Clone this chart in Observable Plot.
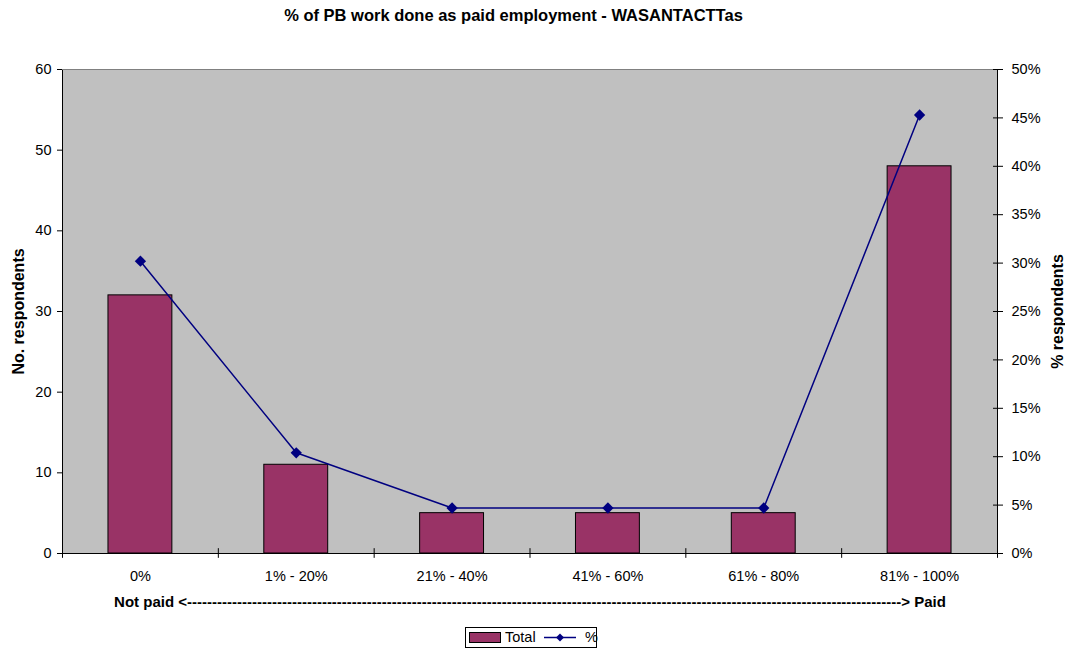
<!DOCTYPE html>
<html>
<head>
<meta charset="utf-8">
<script src="https://cdn.jsdelivr.net/npm/d3@7"></script>
<script src="https://cdn.jsdelivr.net/npm/@observablehq/plot@0.6"></script>
<style>
  body { margin: 0; background: #fff; font-family: "Liberation Sans", Arial, sans-serif; }
  #wrap { position: relative; width: 1065px; height: 650px; }
  #title { position: absolute; left: 0; top: 6px; width: 1027px; text-align: center; font-weight: bold; font-size: 16.5px; }
  #chart { position: absolute; left: 0; top: 40px; }
  #legend { position: absolute; left: 465px; top: 627px; width: 132px; height: 21px; border: 1px solid #000; box-sizing: border-box; font-size: 14.5px; }
  #legend > * { position: absolute; }
</style>
</head>
<body>
<div id="wrap">
  <div id="title">% of PB work done as paid employment - WASANTACTTas</div>
  <div id="chart"></div>
  <div id="legend">
    <svg width="32" height="12" style="left:3px;top:4px"><rect x="0.5" y="0.5" width="31" height="10" fill="#993366" stroke="#000"/></svg>
    <span style="left:39px;top:1px">Total</span>
    <svg width="32" height="12" style="left:78px;top:4px"><line x1="0" y1="5.5" x2="32" y2="5.5" stroke="#000080" stroke-width="1.5"/><path d="M16,1.5 L20,5.5 L16,9.5 L12,5.5 Z" fill="#000080"/></svg>
    <span style="left:119px;top:1px">%</span>
  </div>
</div>
<script>
const categories = ["0%", "1% - 20%", "21% - 40%", "41% - 60%", "61% - 80%", "81% - 100%"];
const totals = [32, 11, 5, 5, 5, 48];
const percents = [30.2, 10.4, 4.7, 4.7, 4.7, 45.3];
const leftTicks = [0, 10, 20, 30, 40, 50, 60];
const rightTicks = [0, 5, 10, 15, 20, 25, 30, 35, 40, 45, 50];

const ratio = 60 / 50; // right axis (0-50%) mapped onto left axis (0-60)
const data = categories.map((c, i) => ({cat: c, total: totals[i], pct: percents[i]}));

const W = 1065, mL = 62, mR = 68;
const step = (W - mL - mR) / categories.length;
const font = "Liberation Sans, Arial, sans-serif";

const arrowText = "Not paid <" + "-".repeat(143) + "> Paid";

const chart = Plot.plot({
  width: W,
  height: 580,
  marginLeft: mL,
  marginRight: mR,
  marginTop: 29,
  marginBottom: 67,
  style: {fontFamily: font, fontSize: "14.5px", color: "#000", background: "transparent"},
  x: {domain: categories, paddingInner: 0.59, paddingOuter: 0.295, round: false, label: null},
  y: {domain: [0, 60], label: null},
  marks: [
    Plot.frame({fill: "#C0C0C0", stroke: "#000"}),
    Plot.ruleY([60], {stroke: "#808080"}),
    Plot.barY(data, {x: "cat", y: "total", fill: "#993366", stroke: "#000", strokeWidth: 1}),
    Plot.line(data, {x: "cat", y: d => d.pct * ratio, stroke: "#000080", strokeWidth: 1.5}),
    Plot.dot(data, {x: "cat", y: d => d.pct * ratio, symbol: "square", rotate: 45, r: 4.5, fill: "#000080", stroke: null}),
    Plot.axisY(leftTicks, {anchor: "left", tickSize: 5, tickPadding: 6, label: null, fontSize: 14.5}),
    Plot.axisY(rightTicks.map(v => v * ratio), {anchor: "right", tickSize: 10, dx: -5, tickPadding: 9, tickFormat: v => Math.round(v / ratio) + "%", label: null, fontSize: 14.5}),
    Plot.axisX({tickSize: 0, tickPadding: 17, label: null, fontSize: 14.5}),
    Plot.ruleX(categories, {x: d => d, y1: -0.6, y2: 0.6, dx: -step / 2, stroke: "#000"}),
    Plot.ruleX([categories[categories.length - 1]], {x: d => d, y1: -0.6, y2: 0.6, dx: step / 2, stroke: "#000"}),
    Plot.text(["No. respondents"], {frameAnchor: "left", dx: -44, rotate: -90, textAnchor: "middle", text: d => d, fontWeight: "bold", fontSize: 16}),
    Plot.text(["% respondents"], {frameAnchor: "right", dx: 60, rotate: -90, textAnchor: "middle", text: d => d, fontWeight: "bold", fontSize: 16}),
    Plot.text([arrowText], {frameAnchor: "bottom", dy: 53, textAnchor: "middle", text: d => d, fontWeight: "bold", fontSize: 15})
  ]
});
document.getElementById("chart").appendChild(chart);
</script>
</body>
</html>
